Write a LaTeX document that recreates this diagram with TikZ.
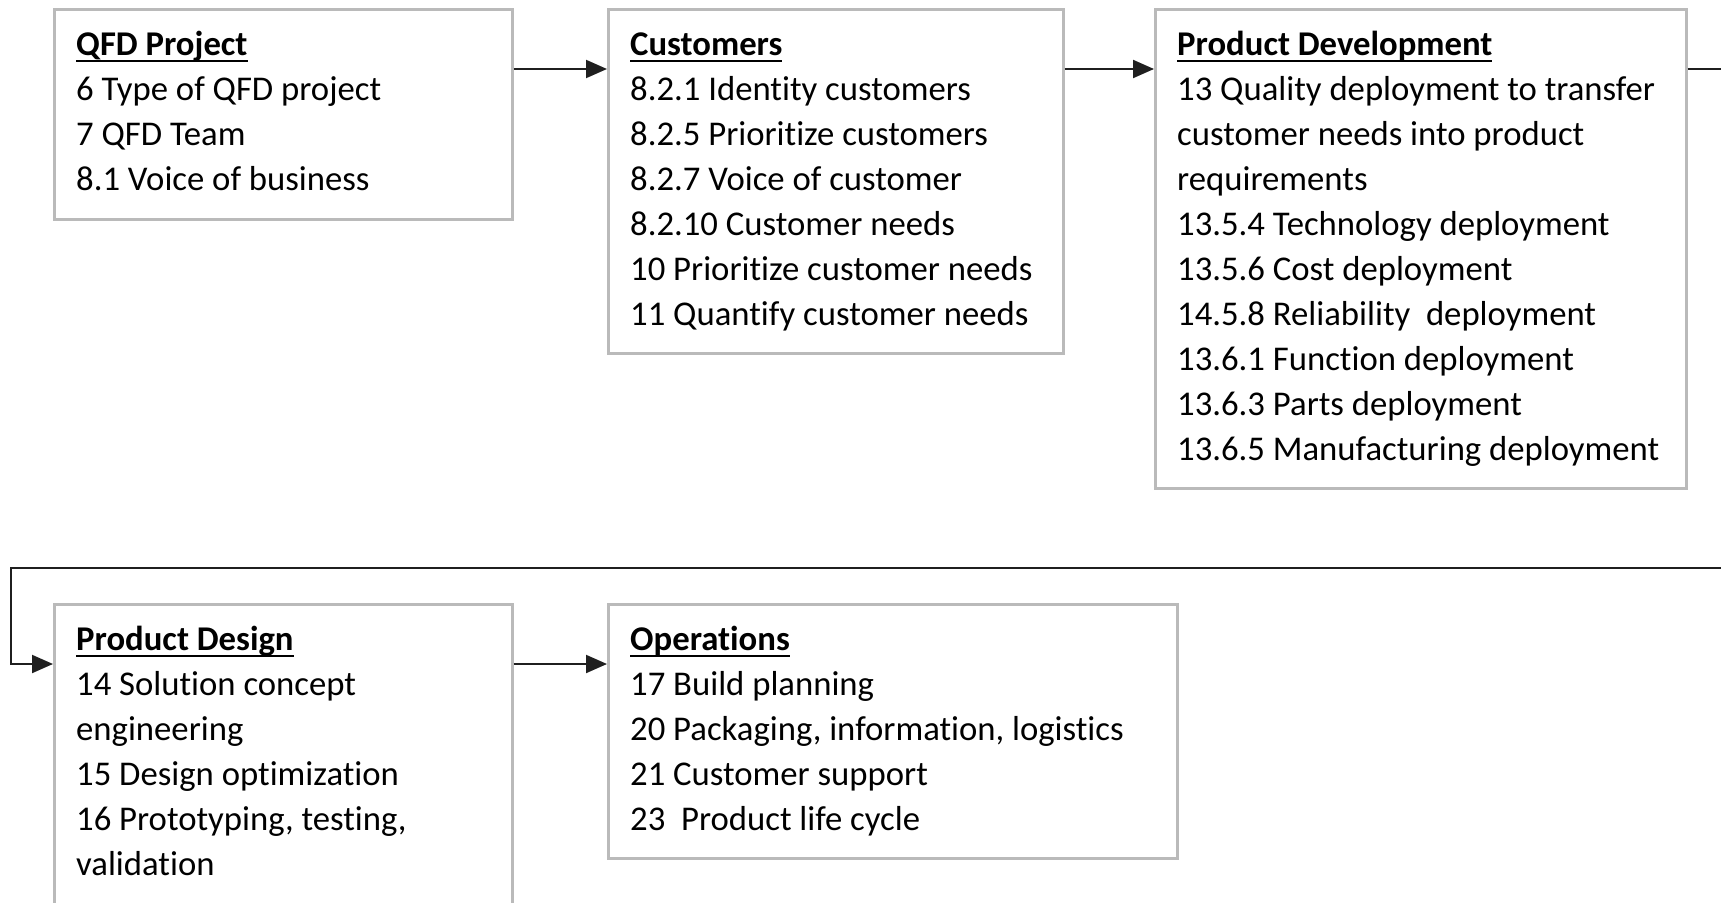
\documentclass[tikz,border=0pt]{standalone}
\usepackage{fontspec}
\setmainfont{Carlito}[RawFeature={-liga;-clig;-dlig}]
\usetikzlibrary{arrows.meta}

% Word-style underline: a rule slightly below the baseline
\newcommand\headline[1]{\setbox0\hbox{\bfseries #1}\rlap{\rule[-7pt]{\wd0}{2pt}}\box0}

% Title and numbered lines of a box, placed baseline by baseline
\newcommand\boxlines[3]{%
  \node[linetext, anchor=base west] (#1-t) at ([shift={(23pt,-47pt)}]#1.north west) {\headline{#2}};
  \foreach \l [count=\i] in {#3} {
    \node[linetext, anchor=base west] (#1-\i) at ([shift={(23pt,{-47pt-45pt*\i})}]#1.north west) {\l};
  }%
}

\begin{document}
\begin{tikzpicture}[x=1pt, y=-1pt,
  stage/.style={draw=black!27, line width=2.5pt, fill=white, rectangle,
    anchor=north west, inner sep=0pt},
  linetext/.style={inner sep=0pt, font=\fontsize{34.7}{45}\selectfont, text=black},
  conn/.style={draw=black!88, line width=2pt},
  flow/.style={conn, -{Triangle[length=21pt, width=18pt]}}]
\useasboundingbox (0,0) rectangle (1721,902);
\clip (0,0) rectangle (1721,902);
\fill[white] (0,0) rectangle (1721,902);

% stage boxes
\node[stage, minimum width=458pt, minimum height=210pt] (qfd) at (53,8) {};
\node[stage, minimum width=455pt, minimum height=344pt] (cust) at (607,8) {};
\node[stage, minimum width=531pt, minimum height=479pt] (dev) at (1154,8) {};
\node[stage, minimum width=458pt, minimum height=340pt] (design) at (53,603) {};
\node[stage, minimum width=569pt, minimum height=254pt] (ops) at (607,603) {};

% box contents
\boxlines{qfd}{QFD Project}{6 Type of QFD project, 7 QFD Team, 8.1 Voice of business}
\boxlines{cust}{Customers}{8.2.1 Identity customers, 8.2.5 Prioritize customers,
  8.2.7 Voice of customer, 8.2.10 Customer needs, 10 Prioritize customer needs,
  11 Quantify customer needs}
\boxlines{dev}{Product Development}{13 Quality deployment to transfer,
  customer needs into product, requirements, 13.5.4 Technology deployment,
  13.5.6 Cost deployment, 14.5.8 Reliability\ \ deployment, 13.6.1 Function deployment,
  13.6.3 Parts deployment, 13.6.5 Manufacturing deployment}
\boxlines{design}{Product Design}{14 Solution concept, engineering,
  15 Design optimization, {16 Prototyping, testing,}, validation}
\boxlines{ops}{Operations}{17 Build planning, {20 Packaging, information, logistics},
  21 Customer support, 23\ \ Product life cycle}

% connectors
\draw[flow] ([yshift=-61pt]qfd.north east) -- ([yshift=-61pt]cust.north west);
\draw[flow] ([yshift=-61pt]cust.north east) -- ([yshift=-61pt]dev.north west);
\coordinate (turnA) at (1760,69);
\coordinate (turnB) at (1760,568);
\coordinate (turnC) at (11,568);
\draw[flow] ([yshift=-61pt]dev.north east) -- (turnA) -- (turnB) -- (turnC)
  |- ([yshift=-61pt]design.north west);
\draw[flow] ([yshift=-61pt]design.north east) -- ([yshift=-61pt]ops.north west);
\end{tikzpicture}
\end{document}
